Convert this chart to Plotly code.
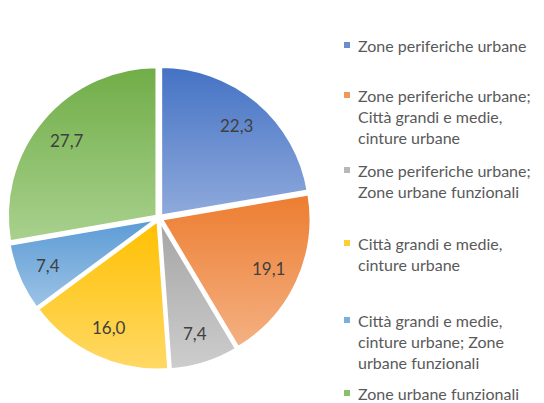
import json
import math
import plotly.graph_objects as go

# Share of municipalities by urban zone classification
categories = [
    "Zone periferiche urbane",
    "Zone periferiche urbane;<br>Città grandi e medie,<br>cinture urbane",
    "Zone periferiche urbane;<br>Zone urbane funzionali",
    "Città grandi e medie,<br>cinture urbane",
    "Città grandi e medie,<br>cinture urbane; Zone<br>urbane funzionali",
    "Zone urbane funzionali",
]
values = [22.3, 19.1, 7.4, 16.0, 7.4, 27.7]

# Slice fills: vertical gradient from the darker top colour to the lighter bottom one
top_colors = ["#4472C4", "#ED7D31", "#A5A5A5", "#FFC000", "#5B9BD5", "#70AD47"]
bottom_colors = ["#8FAADC", "#F4B183", "#CDCDCD", "#FFD966", "#9DC3E6", "#A9D18E"]
mid_colors = ["#6A8ED0", "#F0975A", "#B8B8B8", "#FFCC33", "#7CAFDD", "#8CBF6A"]

W, H = 544, 403
dom_x = [7 / W, 311 / W]
dom_y = [33 / H, 337 / H]
pull = 0.02

fig = go.Figure()
fig.add_trace(go.Pie(
    labels=[c.replace("<br>", " ") for c in categories],
    values=values,
    sort=False,
    direction="clockwise",
    rotation=0,
    pull=pull,
    marker=dict(colors=mid_colors, line=dict(color="white", width=2.5)),
    textinfo="none",
    domain=dict(x=dom_x, y=dom_y),
    showlegend=False,
    hoverinfo="label+value",
))

# Value labels placed towards the outer part of each slice, at its mid angle
cx = (dom_x[0] + dom_x[1]) / 2 * W
cy = (dom_y[0] + dom_y[1]) / 2 * H
radius = min((dom_x[1] - dom_x[0]) * W, (dom_y[1] - dom_y[0]) * H) / 2 / (1 + pull)
total = sum(values)
cum = 0.0
for v in values:
    theta = 2 * math.pi * (cum + v / 2) / total
    cum += v
    r = 0.81 * radius
    fig.add_annotation(
        x=(cx + r * math.sin(theta)) / W, y=(cy + r * math.cos(theta)) / H,
        xref="paper", yref="paper", xanchor="center", yanchor="middle",
        text=f"{v:.1f}".replace(".", ","), showarrow=False,
        font=dict(family="Lato", size=17, color="#404040"),
    )

# Legend drawn at the right: colour squares plus wrapped entry text
legend_tops = [45, 95, 170, 243, 320, 393]
for cat, col, yc in zip(categories, mid_colors, legend_tops):
    fig.add_shape(
        type="rect", xref="paper", yref="paper",
        x0=344 / W, x1=350 / W, y0=(H - yc - 3) / H, y1=(H - yc + 3) / H,
        fillcolor=col, line=dict(width=0),
    )
    fig.add_annotation(
        x=356 / W, y=(H - yc + 11) / H, xref="paper", yref="paper",
        xanchor="left", yanchor="top", align="left",
        text=cat, showarrow=False,
        font=dict(family="Lato", size=16, color="#595959"),
    )

fig.update_layout(
    width=W, height=H,
    margin=dict(l=0, r=0, t=0, b=0),
    paper_bgcolor="white",
    plot_bgcolor="white",
    separators=",.",
)

gradient_js = """
(function () {
  var gd = document.getElementById('{plot_id}');
  var tops = %s;
  var bottoms = %s;
  var ns = 'http://www.w3.org/2000/svg';
  function applyGradients() {
    var svg = gd.querySelector('svg.main-svg');
    if (!svg) return;
    var defs = svg.querySelector('defs');
    if (!defs) {
      defs = document.createElementNS(ns, 'defs');
      svg.insertBefore(defs, svg.firstChild);
    }
    tops.forEach(function (t, i) {
      var id = 'sliceGrad' + i;
      if (svg.querySelector('#' + id)) return;
      var g = document.createElementNS(ns, 'linearGradient');
      g.setAttribute('id', id);
      g.setAttribute('x1', '0'); g.setAttribute('y1', '0');
      g.setAttribute('x2', '0'); g.setAttribute('y2', '1');
      [[0, t], [1, bottoms[i]]].forEach(function (s) {
        var stop = document.createElementNS(ns, 'stop');
        stop.setAttribute('offset', s[0]);
        stop.setAttribute('stop-color', s[1]);
        g.appendChild(stop);
      });
      defs.appendChild(g);
    });
    gd.querySelectorAll('g.slice path.surface').forEach(function (p, i) {
      p.style.fill = 'url(#sliceGrad' + i + ')';
    });
  }
  applyGradients();
  gd.on('plotly_afterplot', applyGradients);
})();
""" % (json.dumps(top_colors), json.dumps(bottom_colors))

fig.write_html("out.html", post_script=gradient_js)
